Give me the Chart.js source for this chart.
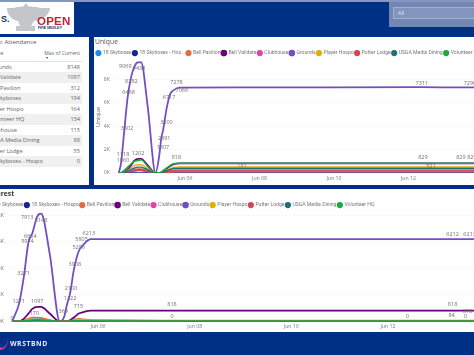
<!DOCTYPE html>
<html>
<head>
<meta charset="utf-8">
<script src="https://cdn.jsdelivr.net/npm/chart.js@4"></script>
<style>
html, body { margin: 0; height: 100%; overflow: hidden; background: #002f86; font-family: "Open Sans", sans-serif; }
#page { position: relative; width: 474px; height: 355px; overflow: hidden; filter: blur(.35px); }
.box { position: absolute; background: #fff; }
.txt { position: absolute; white-space: nowrap; }
canvas { position: absolute; }
#strip { position: absolute; left: 0; top: 0; width: 474px; height: 2px; background: #8397bf; }
#logo { left: 0; top: 2px; width: 74px; height: 32px; }
#slicer { position: absolute; left: 389px; top: 2px; width: 85px; height: 25px; background: #7487b3; }
#slicerBox { position: absolute; left: 4px; top: 5px; width: 90px; height: 10px; background: #8495bd; border: 1px solid #a3b1cf; color: #dfe4ee; font-size: 5.5px; line-height: 10px; padding-left: 4px; }
#tablePanel { left: 0; top: 37px; width: 89px; height: 148px; }
#topPanel { left: 94px; top: 37px; width: 380px; height: 148px; }
#bottomPanel { left: 0; top: 189px; width: 474px; height: 143px; }
.row { position: absolute; left: 0; width: 82px; height: 10.6px; font-size: 5.6px; line-height: 10.6px; color: #666; }
.row .n { position: absolute; left: -11px; }
.row .v { position: absolute; right: 2px; }
</style>
</head>
<body>
<div id="page">
  <div id="strip"></div>
  <div class="box" id="logo">
    <svg width="74" height="32" style="position:absolute;left:0;top:0">
      <path d="M7 6 H14 C18 4 36 4 40 6 H50 C50 13 42 18 34 19 L31 24 H35 V29 H16 V24 H20 L18 19 C12 18 7 13 7 6 Z" fill="#c4c6c9"/>
      <path d="M26 1 l3 4 h-6 Z" fill="#c4c6c9"/>
    </svg>
    <div class="txt" style="left:1px;top:12px;font:bold 9px 'Liberation Sans';color:#17336b">S.</div>
    <div class="txt" style="left:37px;top:12.5px;font:bold 11.5px 'Liberation Sans';color:#c8202f;letter-spacing:.2px">OPEN</div>
    <div class="txt" style="left:38px;top:24px;font:bold 3.6px 'Liberation Sans';color:#223a70">FIRE MEDLEY</div>
  </div>
  <div id="slicer"><div id="slicerBox">All</div></div>

  <div class="box" id="tablePanel">
    <div class="txt" style="left:-14px;top:0;font-size:6px;line-height:11px;color:#555">Public Attendance</div>
    <div class="txt" style="left:-9px;top:12px;font-size:5.6px;line-height:9px;color:#666">Gate</div>
    <div class="txt" style="right:9px;top:12px;font-size:5.1px;line-height:9px;color:#666">Max of Current</div>
    <div class="txt" style="left:46px;top:19px;font-size:4px;line-height:4px;color:#444">&#9662;</div>
    <div style="position:absolute;left:0;top:23.5px;width:82px;height:1px;background:#d7e3f0"></div>
    <div id="rows"></div>
  </div>
  <div class="box" id="topPanel"></div>
  <div class="box" id="bottomPanel"></div>

  <canvas id="uniqueChart" style="left:94px;top:37px"></canvas>
  <canvas id="interestChart" style="left:-14px;top:189px"></canvas>

  <svg width="12" height="14" style="position:absolute;left:0;top:339px">
    <path d="M0 8 C4 10 7 6 8 0 C8 6 5 11 0 11 Z" fill="#c9359a"/>
  </svg>
  <div class="txt" style="left:10px;top:339px;font:bold 6.8px 'Open Sans';letter-spacing:.55px;color:#e8ecf5">WRSTBND</div>
</div>

<script>
var gateNames = ["Grounds", "Bell Validate", "Bell Pavilion", "18 Skyboxes", "Player Hospo", "Volunteer HQ", "Clubhouse", "USGA Media Dining", "Putter Lodge", "18 Skyboxes - Hospo"];
var gateMax = [8148, 1097, 312, 194, 164, 134, 115, 88, 55, 0];

var seriesNames = ["18 Skyboxes", "18 Skyboxes - Hospo", "Bell Pavilion", "Bell Validate", "Clubhouse", "Grounds", "Player Hospo", "Putter Lodge", "USGA Media Dining", "Volunteer HQ"];
var seriesColors = ["#118DFF", "#12239E", "#E66C37", "#6B007B", "#E044A7", "#744EC2", "#D9B300", "#D64550", "#197278", "#1AAB40"];

// day of June for each reading
var xDays = [4.22, 4.28, 4.36, 4.46, 4.56, 4.64, 4.74, 4.82, 5.0, 5.21, 5.3, 5.36, 5.42, 5.5, 5.6, 5.7, 5.85, 7.53, 12.36, 13.38, 13.65, 16];
var xTicks = [6, 8, 10, 12];
var xTickLabels = ["Jun 06", "Jun 08", "Jun 10", "Jun 12"];
var yTicks = [0, 2000, 4000, 6000, 8000];
var yTickLabels = ["0K", "2K", "4K", "6K", "8K"];

// Unique
var uSky = [0, 0, 20, 60, 120, 170, 200, 200, 100, 0, 0, 10, 20, 30, 40, 50, 60, 60, 60, 60, 60, 60];
var uHospo = [0, 0, 0, 0, 0, 0, 0, 0, 0, 0, 0, 0, 0, 0, 0, 0, 0, 0, 0, 0, 0, 0];
var uPavilion = [0, 0, 30, 90, 180, 280, 340, 340, 170, 0, 0, 20, 40, 60, 80, 90, 100, 100, 100, 100, 100, 100];
var uValidate = [0, 0, 60, 300, 700, 1050, 1202, 1202, 640, 0, 0, 60, 180, 360, 600, 760, 818, 818, 818, 818, 818, 818];
var uClubhouse = [0, 0, 40, 100, 180, 260, 300, 300, 160, 0, 0, 30, 70, 120, 180, 230, 250, 250, 250, 250, 250, 250];
var uGrounds = [0, 800, 3302, 6468, 8282, 9069, 9438, 9438, 5600, 0, 1307, 2891, 3800, 5400, 6717, 7066, 7278, 7290, 7311, 7290, 7290, 7290];
var uPlayer = [0, 0, 60, 200, 450, 620, 700, 700, 370, 0, 0, 40, 120, 240, 380, 480, 520, 520, 521, 520, 520, 520];
var uPutter = [0, 0, 20, 60, 120, 190, 240, 240, 130, 0, 0, 10, 50, 90, 130, 170, 181, 181, 181, 181, 181, 181];
var uUsga = [0, 0, 40, 150, 300, 420, 500, 500, 270, 0, 0, 30, 90, 190, 300, 380, 400, 400, 400, 400, 400, 400];
var uVolunteer = [0, 30, 200, 500, 800, 1000, 1060, 1118, 560, 0, 0, 80, 220, 420, 640, 790, 829, 829, 829, 829, 829, 829];

// Interest
var iSky = [0, 0, 10, 40, 100, 170, 194, 190, 90, 0, 0, 10, 20, 40, 50, 60, 60, 40, 40, 40, 40, 40];
var iHospo = [0, 0, 0, 0, 0, 0, 0, 0, 0, 0, 0, 0, 0, 0, 0, 0, 0, 0, 0, 0, 0, 0];
var iPavilion = [0, 0, 30, 100, 220, 300, 312, 280, 120, 0, 0, 20, 80, 160, 220, 170, 110, 84, 84, 84, 84, 84];
var iValidate = [0, 0, 0, 200, 600, 950, 1097, 1097, 600, 0, 0, 0, 100, 300, 600, 715, 818, 818, 818, 818, 818, 818];
var iClubhouse = [0, 0, 10, 40, 80, 110, 115, 100, 50, 0, 0, 10, 30, 50, 70, 60, 40, 30, 30, 30, 30, 30];
var iGrounds = [0, 500, 1271, 3271, 5974, 6654, 7913, 8148, 5100, 0, 369, 1322, 2100, 3908, 5296, 5805, 6213, 6213, 6213, 6212, 6213, 6213];
var iPlayer = [0, 0, 20, 70, 130, 160, 164, 140, 70, 0, 0, 20, 60, 120, 150, 130, 90, 64, 64, 64, 64, 64];
var iPutter = [0, 0, 5, 15, 30, 45, 55, 50, 20, 0, 0, 5, 10, 20, 25, 20, 15, 10, 10, 10, 10, 10];
var iUsga = [0, 0, 5, 20, 50, 75, 88, 80, 40, 0, 0, 5, 15, 30, 40, 30, 20, 15, 15, 15, 15, 15];
var iVolunteer = [0, 0, 10, 40, 80, 120, 134, 120, 60, 0, 0, 10, 30, 50, 60, 50, 40, 25, 25, 25, 25, 25];

var uniqueSeries = [uSky, uHospo, uPavilion, uValidate, uClubhouse, uGrounds, uPlayer, uPutter, uUsga, uVolunteer];
var interestSeries = [iSky, iHospo, iPavilion, iValidate, iClubhouse, iGrounds, iPlayer, iPutter, iUsga, iVolunteer];

// which readings carry a value label: series, reading
var uniqueLabelled = [[5, 5], [5, 7], [5, 4], [5, 3], [5, 2], [5, 10], [5, 11], [5, 12], [5, 14], [5, 16], [5, 15], [5, 18], [5, 20],
  [9, 6], [9, 7], [3, 6], [3, 16], [9, 18], [9, 19], [9, 20], [7, 17], [6, 18]];
var uniqueNudges = [[-9, 0], [-2, 6], [0, 6], [1, -5], [3, -6], [4, -10], [3, -1], [3, -6], [-1, 3], [-3, -5], [8, 0], [0, -4], [0, -4],
  [-15, 0], [-18, -5], [0, -5], [-3, -6], [1, -6], [1, -6], [2, -6], [0, -5], [9, 0]];

var interestLabelled = [[5, 2], [5, 3], [5, 4], [5, 5], [5, 6], [5, 7], [5, 10], [5, 11], [5, 12], [5, 13], [5, 14], [5, 15], [5, 16], [5, 19], [5, 20],
  [3, 6], [3, 15], [3, 17], [3, 19], [3, 20], [1, 0], [1, 17], [1, 18], [1, 20], [2, 19], [0, 5]];
var interestNudges = [[0, -3], [0, -5], [-1, -1], [-2, 3], [-10, 1], [0, 7], [-1, -5], [3, -6], [1, -5], [1, -5], [0, -4], [-2, -5], [-2, -6], [-2, -5], [2, -5],
  [0, -6], [-5, -6], [0, -6], [-2, -6], [0, 1], [0, -3], [0, -5], [2, -5], [-2, -5], [-3, -5], [2, -6]];

var rows = document.getElementById("rows");
gateNames.forEach(function (name, i) {
  var row = document.createElement("div");
  row.className = "row";
  row.style.top = (24.5 + i * 10.55) + "px";
  row.style.background = i % 2 ? "#f0f0f0" : "#fff";
  row.innerHTML = '<span class="n">' + name + '</span><span class="v">' + gateMax[i] + "</span>";
  rows.appendChild(row);
});

var valueLabels = {
  id: "valueLabels",
  afterDatasetsDraw: function (chart, args, opts) {
    var ctx = chart.ctx;
    ctx.save();
    ctx.font = '5.5px "Open Sans"';
    ctx.fillStyle = "#6f6f6f";
    ctx.textAlign = "center";
    ctx.textBaseline = "middle";
    opts.points.forEach(function (p, i) {
      var el = chart.getDatasetMeta(p[0]).data[p[1]];
      var v = chart.data.datasets[p[0]].data[p[1]].y;
      ctx.fillText(v, el.x + opts.nudges[i][0], el.y + opts.nudges[i][1]);
    });
    ctx.restore();
  },
};

function buildDatasets(rowsOfValues) {
  return rowsOfValues.map(function (vals, s) {
    return {
      label: seriesNames[s],
      data: vals.map(function (v, i) { return { x: xDays[i], y: v }; }),
      borderColor: seriesColors[s],
      backgroundColor: seriesColors[s],
      borderWidth: s == 5 || s == 3 ? 1.8 : 1.4,
      pointRadius: 0,
      cubicInterpolationMode: "monotone",
      order: 10 - s,
    };
  });
}

function makeChart(id, w, h, cfg) {
  var el = document.getElementById(id);
  el.width = w;
  el.height = h;
  el.style.width = w + "px";
  el.style.height = h + "px";
  return new Chart(el.getContext("2d"), {
    type: "line",
    data: { datasets: buildDatasets(cfg.series) },
    plugins: [valueLabels],
    options: {
      responsive: false,
      animation: false,
      layout: { padding: { left: 1 } },
      plugins: {
        title: {
          display: true,
          text: cfg.title,
          align: "start",
          color: cfg.titleColor,
          font: { family: "Open Sans", size: 6.8, weight: cfg.titleWeight },
          padding: { top: 1, bottom: 3 },
        },
        legend: {
          display: true,
          position: "top",
          align: "start",
          maxHeight: cfg.legendHeight,
          labels: {
            usePointStyle: true,
            boxWidth: 4,
            boxHeight: 3.4,
            padding: 1.4,
            color: "#777",
            font: { family: "Roboto", size: 5.1 },
            sort: function (a, b) { return a.datasetIndex - b.datasetIndex; },
            generateLabels: function (chart) {
              var items = Chart.defaults.plugins.legend.labels.generateLabels(chart);
              items.forEach(function (it) {
                if (cfg.shorten && it.text == "18 Skyboxes - Hospo") it.text = "18 Skyboxes - Hos...";
              });
              return items;
            },
          },
        },
        tooltip: { enabled: false },
        valueLabels: { points: cfg.labelled, nudges: cfg.nudges },
      },
      scales: {
        x: {
          type: "linear",
          min: cfg.xMin,
          max: cfg.xMax,
          grid: { display: false, tickLength: 0 },
          border: { display: false },
          afterBuildTicks: function (scale) {
            scale.ticks = xTicks.map(function (v) { return { value: v }; });
          },
          afterFit: function (scale) {
            scale.height = cfg.xHeight;
            scale.paddingLeft = 0;
            scale.paddingRight = 0;
          },
          ticks: {
            color: "#777",
            font: { family: "Open Sans", size: 5.2 },
            maxRotation: 0,
            padding: 2,
            autoSkip: false,
            callback: function (v) { return xTickLabels[xTicks.indexOf(v)]; },
          },
        },
        y: {
          min: 0,
          max: cfg.yMax,
          grid: { color: "#f4f4f4", drawTicks: false },
          border: { display: false, dash: [2, 2] },
          title: { display: true, text: cfg.yTitle, color: "#666", font: { family: "Open Sans", size: 6 }, padding: 0 },
          afterBuildTicks: function (scale) {
            scale.ticks = yTicks.map(function (v) { return { value: v }; });
          },
          afterFit: function (scale) {
            scale.width = cfg.yWidth;
            scale.paddingTop = 0;
            scale.paddingBottom = 0;
          },
          ticks: {
            color: "#777",
            font: { family: "Open Sans", size: 5.2 },
            padding: 5,
            callback: function (v) { return yTickLabels[yTicks.indexOf(v)]; },
          },
        },
      },
    },
  });
}

makeChart("uniqueChart", 440, 148, {
  series: uniqueSeries, title: "Unique", titleColor: "#555", titleWeight: "normal", yTitle: "Unique", shorten: true, legendHeight: 12,
  yWidth: 20, xHeight: 12, yMax: 9532, xMin: 4.12, xMax: 15.37,
  labelled: uniqueLabelled, nudges: uniqueNudges,
});

makeChart("interestChart", 514, 143, {
  series: interestSeries, title: "Interest", titleColor: "#333", titleWeight: "bold", yTitle: "Interest", shorten: false, legendHeight: 11.7,
  yWidth: 22, xHeight: 10.5, yMax: 8195, xMin: 4.157, xMax: 14.32,
  labelled: interestLabelled, nudges: interestNudges,
});
</script>
</body>
</html>
